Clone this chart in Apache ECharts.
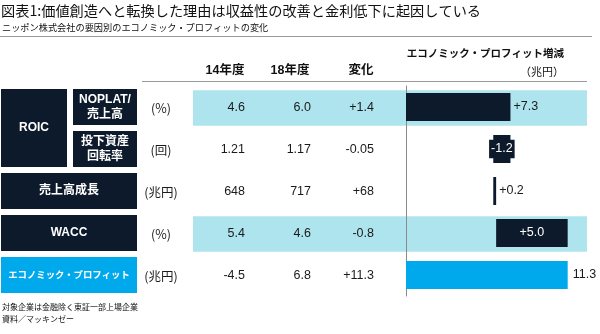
<!DOCTYPE html>
<html><head><meta charset="utf-8">
<script src="https://cdn.jsdelivr.net/npm/echarts@6/dist/echarts.min.js"></script>
<style>html,body{margin:0;padding:0;background:#fff}#c{width:600px;height:334px}</style>
</head><body><div id="c"></div>
<script>
// ---- data ----
const titleText = '図表1:価値創造へと転換した理由は収益性の改善と金利低下に起因している';
const subtitleText = 'ニッポン株式会社の要因別のエコノミック・プロフィットの変化';
const rowLabels = ['NOPLAT/\n売上高', '投下資産\n回転率', '売上高成長', 'WACC', 'エコノミック・プロフィット'];
const groupLabel = 'ROIC';
const groupRows = [0, 1];
const units = ['(%)', '(回)', '(兆円)', '(%)', '(兆円)'];
const headers = ['14年度', '18年度', '変化'];
const fy14 = [4.6, 1.21, 648, 5.4, -4.5];
const fy18 = [6.0, 1.17, 717, 4.6, 6.8];
const diff = [1.4, -0.05, 68, -0.8, 11.3];
const decimals = [1, 2, 0, 1, 1];
const epChange = [7.3, -1.2, 0.2, 5.0, 11.3]; // last is total
const highlightRows = [0, 3];
const epTitle = 'エコノミック・プロフィット増減';
const epUnit = '（兆円）';
const notes = ['対象企業は金融除く東証一部上場企業', '資料／マッキンゼー'];

// ---- styles ----
const NAVY = '#0c1a2b', BAND = '#aee4ee', BLUE = '#00a8ec';
const JP = "'Noto Sans CJK JP', sans-serif";
const NUM = "'Liberation Sans', 'Noto Sans CJK JP', sans-serif";

const rowIdx = rowLabels.map((_, i) => i);
const nRows = rowLabels.length;

// waterfall
const base = [], len = [];
let cum = 0;
epChange.forEach((v, i) => {
  if (i < nRows - 1) {
    const s = cum, e = cum + v;
    base.push(Math.min(s, e)); len.push(Math.abs(v)); cum = e;
  } else { base.push(0); len.push(v); }
});
const fmtSigned = (v, d) => (v > 0 ? '+' : '') + v.toFixed(d);

const labelCfg = [
  {position: 'right', color: '#1a1a1a', distance: 3},
  {position: 'inside', color: '#fff', backgroundColor: NAVY, padding: [3, 2]},
  {position: 'right', color: '#1a1a1a', distance: 3},
  {position: 'inside', color: '#fff'},
  {position: 'right', color: '#1a1a1a', distance: 5}
];

const TOP = 86, H = 210;
const chart = echarts.init(document.getElementById('c'), null, {renderer: 'canvas'});

function txt(x, y, text, o) {
  return Object.assign({type: 'text', x: x, y: y, style: Object.assign({text: text, fill: '#1a1a1a', fontSize: 12.5, fontFamily: NUM, align: 'center', verticalAlign: 'middle'}, o || {})});
}

chart.setOption({
  animation: false,
  grid: [
    {left: 0, width: 600, top: TOP, height: H},
    {left: 406, width: 186, top: TOP, height: H}
  ],
  xAxis: [
    {gridIndex: 0, type: 'value', min: 0, max: 600, show: false},
    {gridIndex: 1, type: 'value', min: 0, max: 13, show: false}
  ],
  yAxis: [
    {gridIndex: 0, type: 'category', data: rowLabels, inverse: true, show: false},
    {gridIndex: 1, type: 'category', data: rowLabels, inverse: true,
     axisLine: {show: true, lineStyle: {color: '#8a8a8a', width: 1}}, axisTick: {show: false}, axisLabel: {show: false}, splitLine: {show: false}}
  ],
  graphic: [
    {type: 'text', left: 1, top: 4, style: {text: titleText, fontSize: 14.2, fontFamily: JP, fill: '#111'}},
    {type: 'text', left: 2, top: 23, style: {text: subtitleText, fontSize: 9.2, fontFamily: JP, fill: '#111'}},
    {type: 'line', shape: {x1: 0, y1: 36.5, x2: 592, y2: 36.5}, style: {stroke: '#9a9a9a', lineWidth: 1}},
    {type: 'line', shape: {x1: 142, y1: 81.5, x2: 587, y2: 81.5}, style: {stroke: '#9a9a9a', lineWidth: 1}},
    {type: 'text', x: 225, y: 71, style: {text: headers[0], fontSize: 12.5, fontWeight: 'bold', fontFamily: NUM, fill: '#111', align: 'center', verticalAlign: 'middle'}},
    {type: 'text', x: 290, y: 71, style: {text: headers[1], fontSize: 12.5, fontWeight: 'bold', fontFamily: NUM, fill: '#111', align: 'center', verticalAlign: 'middle'}},
    {type: 'text', x: 361, y: 71, style: {text: headers[2], fontSize: 12.5, fontWeight: 'bold', fontFamily: NUM, fill: '#111', align: 'center', verticalAlign: 'middle'}},
    {type: 'text', x: 564, y: 53, style: {text: epTitle, fontSize: 10.5, fontWeight: 'bold', fontFamily: JP, fill: '#111', align: 'right', verticalAlign: 'middle'}},
    {type: 'text', x: 564, y: 72, style: {text: epUnit, fontSize: 11, fontFamily: JP, fill: '#111', align: 'right', verticalAlign: 'middle'}},
    {type: 'text', left: 2, top: 303, style: {text: notes[0], fontSize: 8, fontFamily: JP, fill: '#111'}},
    {type: 'text', left: 2, top: 315, style: {text: notes[1], fontSize: 8, fontFamily: JP, fill: '#111'}}
  ],
  series: [
    // highlight bands
    {type: 'custom', xAxisIndex: 0, yAxisIndex: 0, z: 0, silent: true,
     data: highlightRows.map(r => [0, r]),
     renderItem: function (params, api) {
       const r = api.value(1);
       const p0 = api.coord([193, r]), p1 = api.coord([587, r]);
       const h = api.size([0, 1])[1] * 0.84;
       return {type: 'rect', shape: {x: p0[0], y: p0[1] - h / 2 + 1, width: p1[0] - p0[0], height: h}, style: {fill: BAND}};
     }},
    // label boxes
    {type: 'custom', xAxisIndex: 0, yAxisIndex: 0, z: 3, silent: true,
     data: rowIdx.map(r => [0, r]),
     renderItem: function (params, api) {
       const r = api.value(1);
       const band = api.size([0, 1])[1];
       const bh = band - 6;
       const c = api.coord([0, r]);
       const children = [];
       const fill = r === nRows - 1 ? BLUE : NAVY;
       const inGroup = groupRows.indexOf(r) >= 0;
       const x0 = inGroup ? 73 : 1, x1 = 137;
       children.push({type: 'rect', shape: {x: x0, y: c[1] - bh / 2, width: x1 - x0, height: bh}, style: {fill: fill}});
       const fs = r === nRows - 1 ? 9.4 : 12;
       children.push(txt((x0 + x1) / 2, c[1], rowLabels[r], {fill: '#fff', fontWeight: 'bold', fontSize: fs, fontFamily: NUM, lineHeight: 15}));
       if (r === groupRows[0]) {
         const cEnd = api.coord([0, groupRows[groupRows.length - 1]]);
         const y0 = c[1] - bh / 2, y1 = cEnd[1] + bh / 2;
         children.push({type: 'rect', shape: {x: 1, y: y0, width: 66, height: y1 - y0}, style: {fill: NAVY}});
         children.push(txt(34, (y0 + y1) / 2, groupLabel, {fill: '#fff', fontWeight: 'bold', fontSize: 12}));
       }
       return {type: 'group', children: children};
     }},
    // table values
    {type: 'custom', xAxisIndex: 0, yAxisIndex: 0, z: 3, silent: true,
     data: rowIdx.map(r => [0, r]),
     renderItem: function (params, api) {
       const r = api.value(1);
       const y = api.coord([0, r])[1] + 1;
       return {type: 'group', children: [
         txt(161, y, units[r], {fontFamily: JP, fontSize: 12.5}),
         txt(245, y, fy14[r].toFixed(decimals[r]), {align: 'right'}),
         txt(311, y, fy18[r].toFixed(decimals[r]), {align: 'right'}),
         txt(374, y, fmtSigned(diff[r], decimals[r]), {align: 'right'})
       ]};
     }},
    // waterfall base
    {type: 'bar', xAxisIndex: 1, yAxisIndex: 1, stack: 'wf', silent: true, barWidth: 28,
     itemStyle: {color: 'transparent'}, data: base},
    // waterfall values
    {type: 'bar', xAxisIndex: 1, yAxisIndex: 1, stack: 'wf', barWidth: 28, z: 4,
     data: len.map((v, i) => ({
       value: v,
       itemStyle: {color: i === nRows - 1 ? BLUE : NAVY},
       label: Object.assign({show: true, fontSize: 12.5, fontFamily: NUM,
         formatter: i === nRows - 1 ? epChange[i].toFixed(1) : fmtSigned(epChange[i], 1)}, labelCfg[i])
     }))}
  ]
});
</script></body></html>
